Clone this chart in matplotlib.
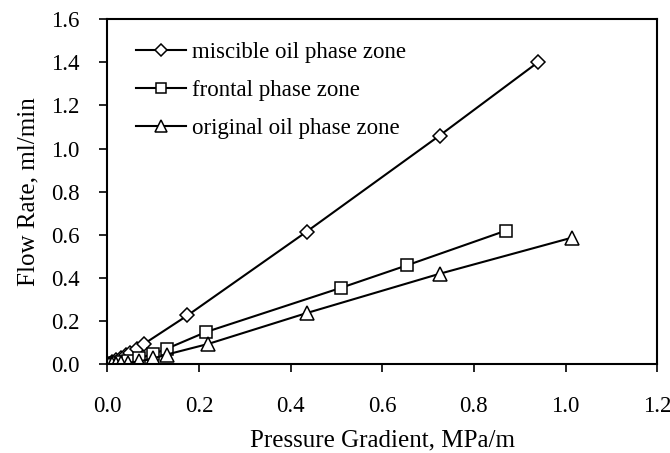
import matplotlib

matplotlib.use("Agg")
import matplotlib.pyplot as plt
from matplotlib.ticker import FormatStrFormatter

# pressure gradient (MPa/m) and flow rate (ml/min)
miscible_x = [0.003, 0.01, 0.02, 0.03, 0.04, 0.05, 0.065, 0.08, 0.175, 0.435, 0.725, 0.94]
miscible_y = [0.003, 0.01, 0.02, 0.03, 0.043, 0.055, 0.072, 0.095, 0.227, 0.615, 1.06, 1.40]

frontal_x = [0.003, 0.01, 0.02, 0.03, 0.045, 0.07, 0.1, 0.13, 0.215, 0.51, 0.655, 0.87]
frontal_y = [0.0, 0.003, 0.006, 0.01, 0.018, 0.03, 0.048, 0.073, 0.15, 0.355, 0.46, 0.62]

original_x = [0.003, 0.01, 0.02, 0.03, 0.045, 0.07, 0.1, 0.13, 0.22, 0.435, 0.725, 1.015]
original_y = [0.0, 0.001, 0.003, 0.005, 0.008, 0.014, 0.028, 0.046, 0.095, 0.238, 0.42, 0.588]

labels = ["miscible oil phase zone", "frontal phase zone", "original oil phase zone"]

plt.rcParams["font.family"] = ["Liberation Serif", "DejaVu Serif"]
plt.rcParams["font.size"] = 16.5

fig = plt.figure(figsize=(6.7, 4.53), dpi=100)
ax = fig.add_axes([0.16, 0.1954, 0.821, 0.7627])

style = dict(color="black", linewidth=1.5, markerfacecolor="white",
             markeredgecolor="black", markeredgewidth=1.1)
ax.plot(miscible_x, miscible_y, marker="D", markersize=7.5, label=labels[0], **style)
ax.plot(frontal_x, frontal_y, marker="s", markersize=9, label=labels[1], **style)
ax.plot(original_x, original_y, marker="^", markersize=10, label=labels[2], **style)

ax.set_xlim(0, 1.2)
ax.set_ylim(0, 1.6)
ax.set_xticks([0.0, 0.2, 0.4, 0.6, 0.8, 1.0, 1.2])
ax.set_yticks([0.0, 0.2, 0.4, 0.6, 0.8, 1.0, 1.2, 1.4, 1.6])
ax.xaxis.set_major_formatter(FormatStrFormatter("%.1f"))
ax.yaxis.set_major_formatter(FormatStrFormatter("%.1f"))
ax.tick_params(direction="out", length=6, width=1.2, labelsize=16.5)
ax.tick_params(axis="x", pad=17)
ax.tick_params(axis="y", pad=14)
for spine in ax.spines.values():
    spine.set_linewidth(1.5)

ax.set_xlabel("Pressure Gradient, MPa/m", fontsize=18, labelpad=9)
ax.set_ylabel("Flow Rate, ml/min", fontsize=18, labelpad=8)

ax.legend(loc="upper left", frameon=False, handlelength=2.2, handletextpad=0.25,
          labelspacing=0.75, borderaxespad=0.0, fontsize=16.5, markerscale=0.85,
          bbox_to_anchor=(0.035, 0.96))

fig.savefig("out.png", dpi=100)
